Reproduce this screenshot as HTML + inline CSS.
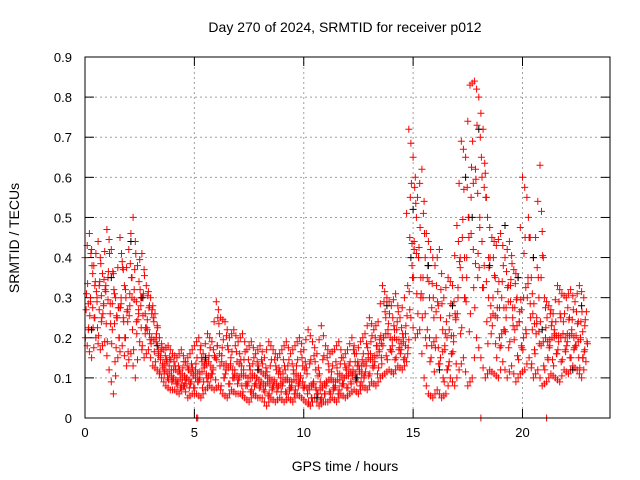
<!DOCTYPE html>
<html><head><meta charset="utf-8"><style>
body{margin:0;background:#fff;}
svg{display:block;font-family:"Liberation Sans",sans-serif;}
</style></head><body>
<svg id="chart" width="640" height="480">
<text x="345" y="32" text-anchor="middle" font-size="14">Day 270 of 2024, SRMTID for receiver p012</text>
<text x="345" y="471" text-anchor="middle" font-size="14">GPS time / hours</text>
<text transform="translate(19,238) rotate(-90)" text-anchor="middle" font-size="14">SRMTID / TECUs</text>
<g id="grid"></g><g id="ticks"></g><g id="marks"></g>
<rect x="85" y="57" width="525" height="361" fill="none" stroke="#000" stroke-width="1"/>
</svg>
<script>
const xTicks=[0,5,10,15,20];
const yTicks=[0,0.1,0.2,0.3,0.4,0.5,0.6,0.7,0.8,0.9];
const yTickLabels=["0","0.1","0.2","0.3","0.4","0.5","0.6","0.7","0.8","0.9"];
const hiVals=[.40,.46,.38,.44,.36,.47,.42,.30,.45,.33,.42,.50,.38,.41,.33,.30,.26,.20,.17,.18,.16,.15,.17,.14,.16,.18,.20,.16,.21,.19,.29,.25,.24,.20,.22,.19,.21,.17,.19,.16,.18,.15,.19,.17,.15,.17,.19,.16,.18,.20,.17,.22,.19,.16,.23,.18,.16,.17,.19,.15,.17,.20,.16,.19,.21,.25,.22,.24,.33,.30,.28,.31,.25,.30,.72,.65,.55,.62,.46,.42,.38,.42,.30,.35,.33,.48,.69,.65,.83,.84,.80,.72,.50,.45,.43,.46,.40,.44,.37,.35,.60,.55,.35,.45,.63,.30,.28,.26,.33,.31,.30,.32,.29,.33,.30];
const loVals=[.18,.15,.20,.17,.19,.12,.06,.15,.18,.13,.16,.10,.19,.15,.17,.13,.12,.10,.08,.07,.07,.06,.08,.05,.06,.06,.05,.07,.08,.07,.08,.06,.05,.07,.06,.06,.05,.04,.06,.05,.05,.03,.05,.04,.05,.04,.05,.04,.06,.05,.04,.03,.05,.03,.04,.04,.05,.04,.06,.05,.06,.07,.06,.08,.07,.09,.08,.10,.11,.12,.11,.13,.12,.14,.25,.20,.22,.10,.06,.05,.07,.05,.06,.10,.08,.12,.15,.08,.10,.20,.15,.10,.12,.11,.10,.14,.10,.13,.09,.11,.12,.15,.10,.12,.08,.09,.11,.10,.09,.12,.11,.13,.12,.10,.14];
const midVals1=[.27,.30,.25,.33,.28,.35,.22,.25,.30,.20,.28,.32,.26,.30,.22,.20,.19,.15,.12,.11,.10,.09,.11,.10,.09,.12,.10,.13,.14,.12,.18,.14,.12,.13,.11,.10,.12,.09,.11,.10,.09,.08,.10,.09,.08,.09,.10,.08,.11,.10,.08,.07,.09,.06,.08,.09,.10,.08,.11,.10,.11,.12,.10,.13,.14,.16,.14,.17,.20,.22,.18,.22,.17,.21,.45,.42,.40,.30,.22,.18,.20,.15,.18,.22,.19,.30,.45,.35,.55,.62,.50,.38,.30,.26,.25,.30,.25,.33,.22,.24,.30,.35,.22,.25,.18,.20,.18,.22,.19,.21,.19,.22,.18,.20,.23];
const midVals2=[.22,.36,.30,.24,.33,.26,.31,.20,.37,.27,.35,.24,.30,.21,.28,.24,.16,.13,.14,.12,.12,.11,.08,.12,.11,.09,.14,.11,.10,.15,.21,.10,.17,.10,.14,.13,.08,.12,.08,.12,.11,.10,.07,.12,.10,.12,.07,.11,.08,.13,.11,.05,.12,.09,.06,.12,.07,.11,.08,.12,.09,.14,.12,.10,.16,.13,.18,.15,.25,.17,.22,.17,.20,.16,.38,.50,.30,.40,.30,.25,.28,.22,.12,.16,.25,.40,.30,.50,.42,.35,.60,.55,.25,.35,.20,.22,.33,.25,.30,.18,.22,.45,.17,.30,.40,.15,.24,.16,.25,.17,.25,.17,.24,.15,.19];
const blackHours=[0.3,2.1,2.6,5.5,7.9,10.6,13.8,14.9,15.0,15.7,16.2,16.8,17.4,17.7,18.0,18.5,19.2,19.8,20.5,20.9,22.3,22.7,1.2,3.3,12.4];
const blackVals=[.22,.44,.30,.15,.12,.05,.28,.40,.52,.38,.12,.28,.60,.50,.72,.38,.48,.35,.40,.22,.12,.28,.35,.18,.10];
const zeroHours=[5.1,5.15,18.1,21.1];
const hourStep=0.2;
const X=h=>85+h*(525/24);
const Y=v=>418-v*(361/0.9);
const NS="http://www.w3.org/2000/svg";
const grid=document.getElementById('grid'),ticks=document.getElementById('ticks'),marks=document.getElementById('marks');
function mk(tag,at,parent){const e=document.createElementNS(NS,tag);for(const k in at)e.setAttribute(k,at[k]);parent.appendChild(e);return e;}
xTicks.forEach(t=>{const x=X(t);
 if(t>0){const g=mk('line',{x1:x,y1:57,x2:x,y2:418,stroke:'#a0a0a0','stroke-dasharray':'2,3'},grid);
 
 }
 mk('line',{x1:x,y1:418,x2:x,y2:409,stroke:'#000'},ticks);
 mk('line',{x1:x,y1:57,x2:x,y2:66,stroke:'#000'},ticks);
 const l=mk('text',{x:x,y:437,'text-anchor':'middle','font-size':13},ticks);l.textContent=t;
 
 });
yTicks.forEach((t,i)=>{const y=Y(t);
 if(t>0&&t<0.9){const g=mk('line',{x1:85,y1:y,x2:610,y2:y,stroke:'#a0a0a0','stroke-dasharray':'2,3'},grid);
 
 }
 mk('line',{x1:85,y1:y,x2:94,y2:y,stroke:'#000'},ticks);
 mk('line',{x1:610,y1:y,x2:601,y2:y,stroke:'#000'},ticks);
 const l=mk('text',{x:72,y:y+5,'text-anchor':'end','font-size':13},ticks);l.textContent=yTickLabels[i];
 
 });
function plus(h,v,color,name){const x=X(h),y=Y(v);
 const p=mk('path',{d:`M${(x-3.5).toFixed(1)} ${y.toFixed(1)}h7M${x.toFixed(1)} ${(y-3.5).toFixed(1)}v7`,stroke:color,'stroke-width':1,fill:'none'},marks);
 
 }
const series=[[hiVals,0.0],[loVals,0.1],[midVals1,0.05],[midVals2,0.15]];
series.forEach(([arr,off])=>{
 arr.forEach((v,i)=>{
  plus(i*hourStep+off,v,'#ff0000','srmtid-point');
  if(i+1<arr.length){plus(i*hourStep+off+0.1,(v+arr[i+1])/2,'#ff0000','srmtid-point');}
 });});
midVals1.forEach((v,i)=>plus(i*hourStep+0.12,(v+hiVals[i])/2,'#ff0000','srmtid-point'));
midVals2.forEach((v,i)=>plus(i*hourStep+0.02,(v+loVals[i])/2,'#ff0000','srmtid-point'));
midVals1.forEach((v,i)=>plus(i*hourStep+0.17,(v+loVals[i])/2,'#ff0000','srmtid-point'));
midVals2.forEach((v,i)=>plus(i*hourStep+0.07,(v+hiVals[i])/2,'#ff0000','srmtid-point'));
blackHours.forEach((h,i)=>plus(h,blackVals[i],'#000000','srmtid-point-dark'));
zeroHours.forEach(h=>plus(h,0,'#ff0000','srmtid-zero-point'));
</script>
</body></html>
